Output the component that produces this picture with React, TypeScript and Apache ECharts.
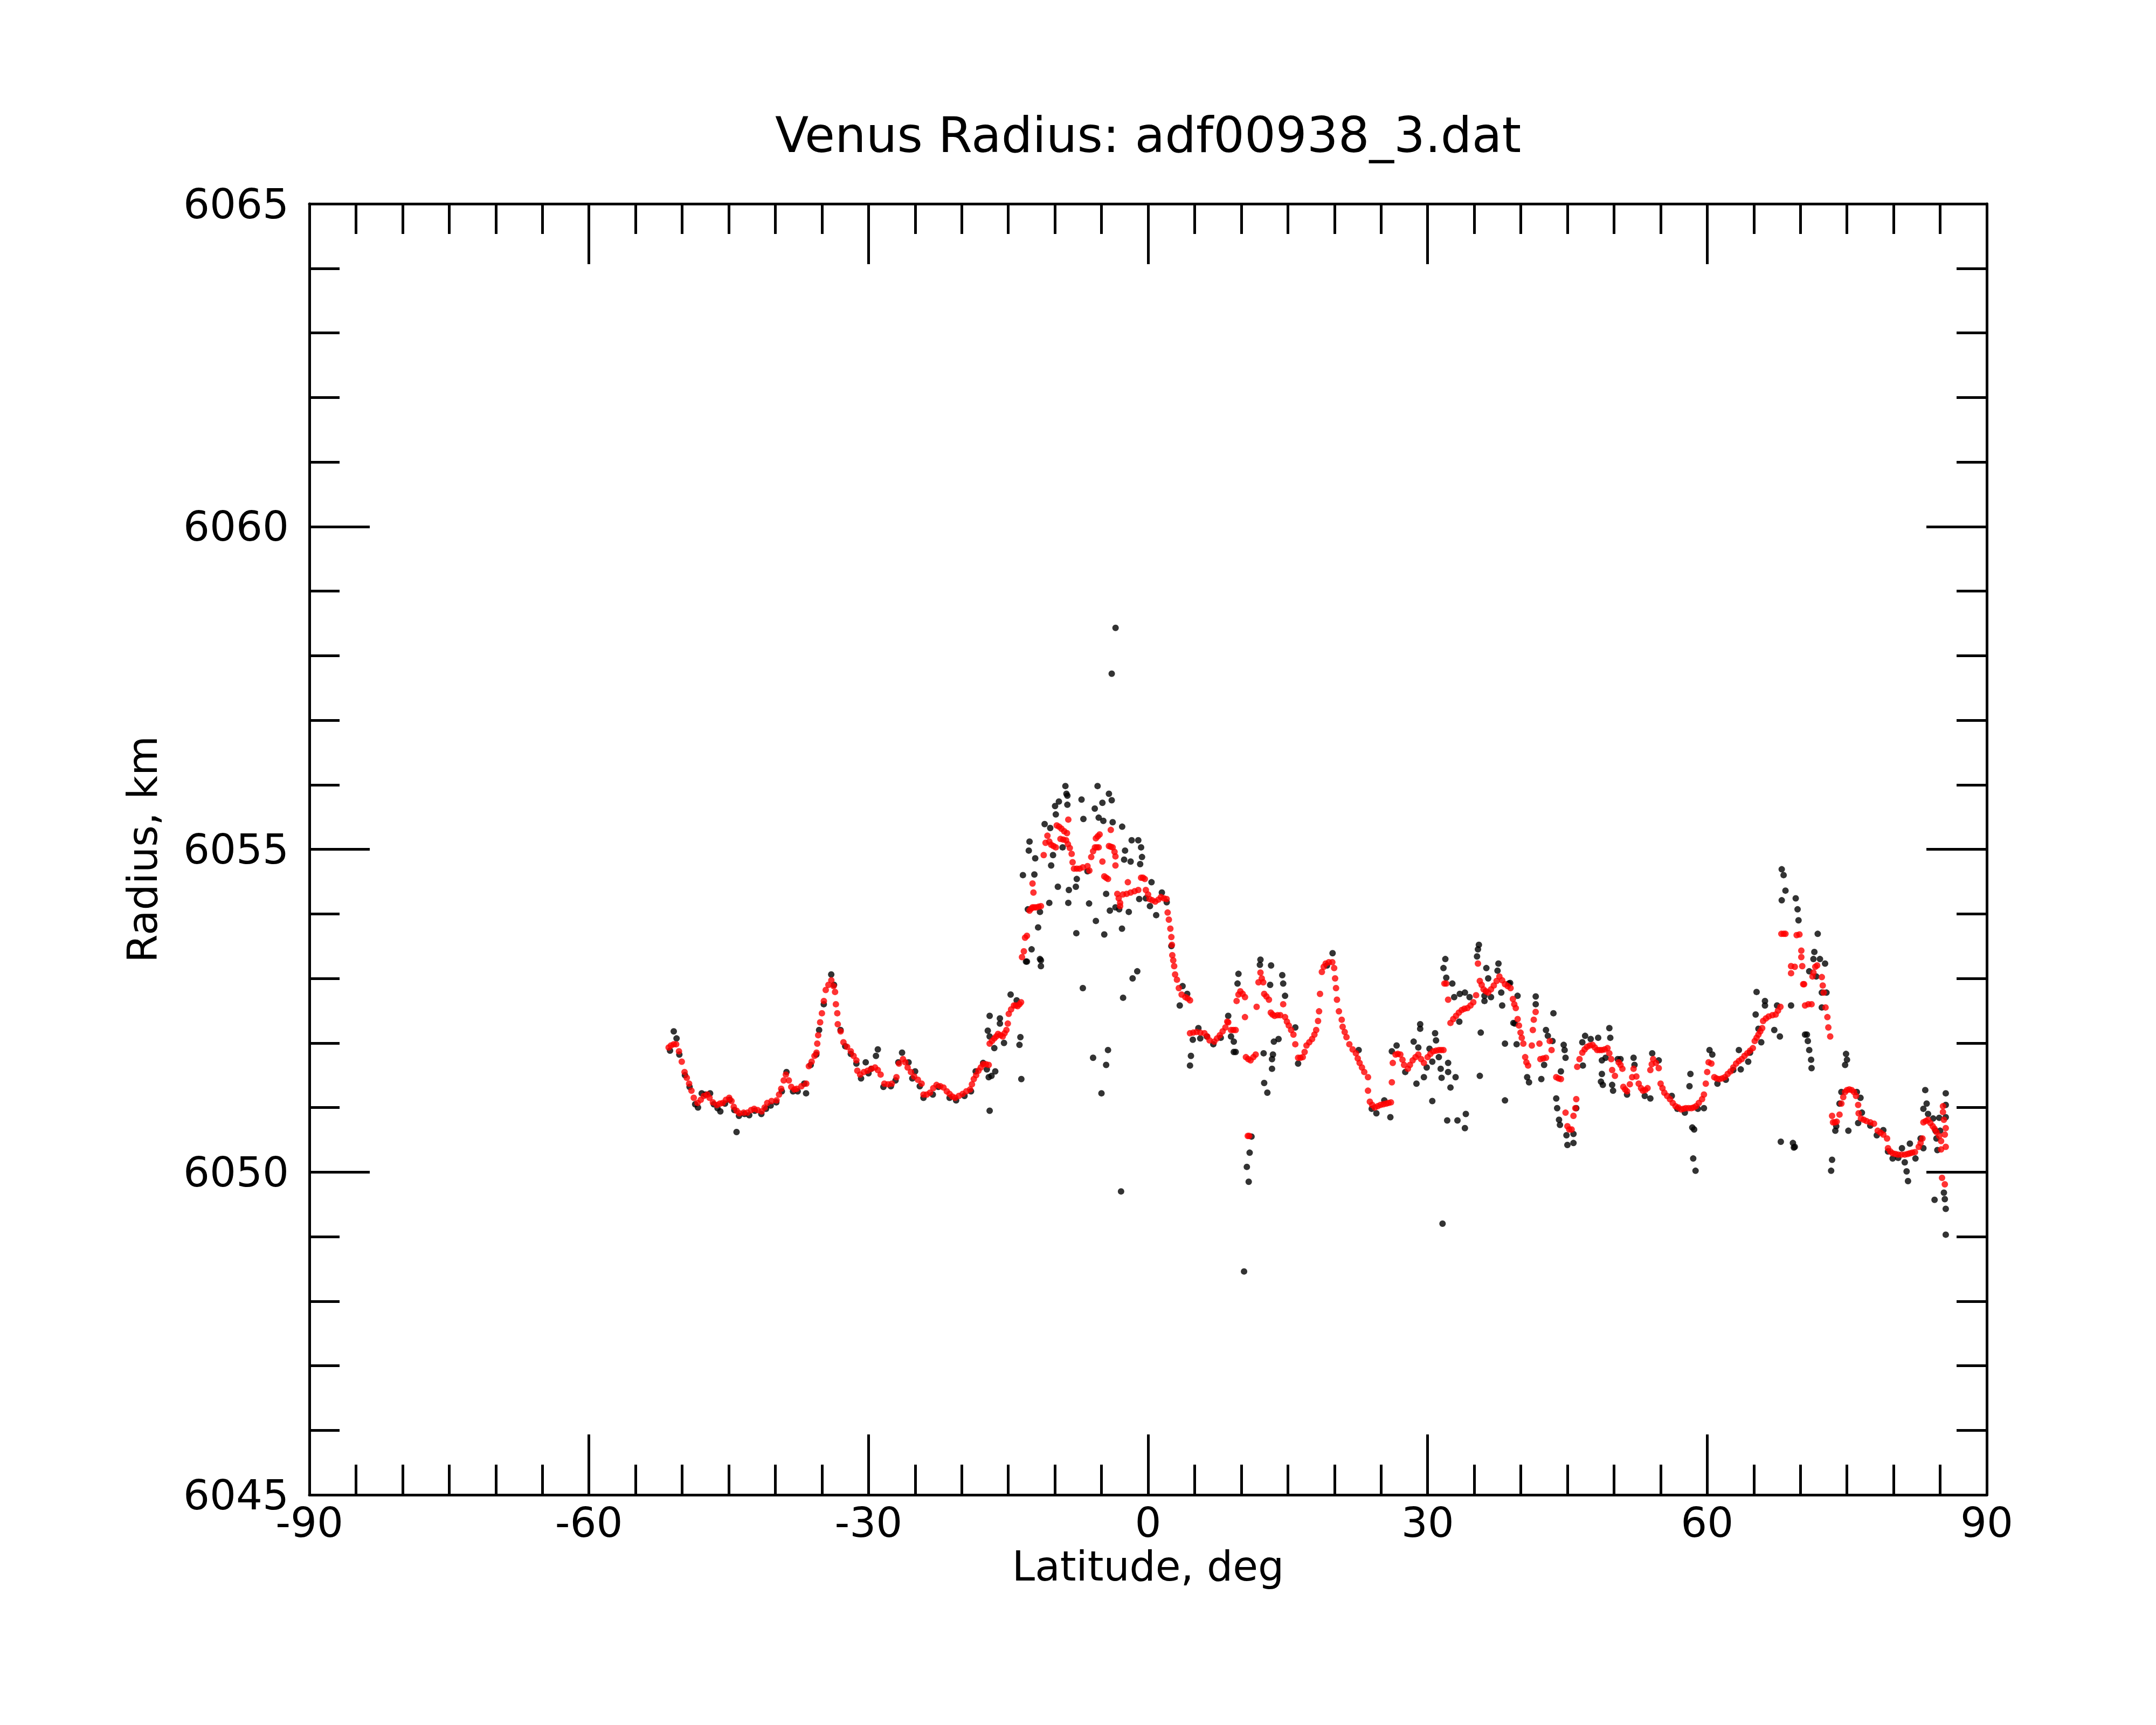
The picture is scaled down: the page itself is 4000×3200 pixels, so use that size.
import React, { useEffect, useRef } from "react";
import * as echarts from "echarts";

const TITLE = "Venus Radius: adf00938_3.dat";
const X_NAME = "Latitude, deg";
const Y_NAME = "Radius, km";
const X_MIN = -90;
const X_MAX = 90;
const X_STEP = 30;
const Y_MIN = 6045;
const Y_MAX = 6065;
const Y_STEP = 5;

// raw measurements (black)
const rawPoints: number[][] = [
  [-51.3,6051.88],[-50.9,6052.18],[-50.6,6052.07],[-50.3,6051.82],[-49.7,6051.5],[-49.2,6051.32],[-48.6,6051.05],[-48.3,6051.0],[-47.9,6051.22],[-47.5,6051.2],[-47.0,6051.22],[-46.6,6051.05],[-46.2,6050.99],[-45.9,6050.94],[-45.4,6051.06],[-44.9,6051.12],[-44.4,6050.96],[-44.16,6050.62],[-43.9,6050.87],[-43.3,6050.9],[-42.8,6050.88],[-42.2,6050.95],[-41.5,6050.9],[-41.0,6050.98],[-40.5,6051.03],[-39.9,6051.08],[-39.3,6051.25],[-38.8,6051.55],[-38.1,6051.25],[-37.6,6051.25],[-36.9,6051.37],[-36.7,6051.22],[-36.2,6051.66],[-35.6,6051.82],[-35.3,6052.2],[-34.8,6052.6],[-34.0,6053.06],[-33.7,6052.9],[-33.0,6052.2],[-32.5,6051.95],[-31.9,6051.83],[-31.3,6051.68],[-30.8,6051.45],[-30.3,6051.7],[-30.0,6051.53],[-29.7,6051.6],[-29.2,6051.8],[-29.0,6051.9],[-28.4,6051.32],[-27.6,6051.33],[-27.1,6051.42],[-26.8,6051.7],[-26.4,6051.85],[-25.7,6051.7],[-25.0,6051.56],[-25.3,6051.45],[-24.5,6051.33],[-24.1,6051.15],[-23.1,6051.2],[-22.5,6051.32],[-21.3,6051.15],[-20.6,6051.11],[-19.7,6051.18],[-19.0,6051.25],[-18.5,6051.56],[-17.7,6051.69],[-17.3,6051.59],[-17.1,6051.47],[-16.8,6051.49],[-16.4,6051.56],[-17.0,6050.95],[-17.2,6052.19],[-17.0,6052.1],[-17.0,6052.42],[-16.5,6051.92],[-15.9,6052.38],[-15.9,6052.3],[-15.46,6052.0],[-14.75,6052.75],[-14.1,6052.66],[-13.7,6052.09],[-13.8,6051.97],[-13.6,6051.44],
  [-13.43,6054.6],[-13.1,6053.26],[-13.0,6053.26],[-12.9,6054.07],[-12.8,6054.98],[-12.72,6055.12],[-12.5,6053.45],[-12.2,6054.61],[-12.11,6054.86],[-11.8,6053.79],[-11.6,6054.03],[-11.6,6053.3],[-11.5,6053.19],[-11.5,6053.28],[-11.1,6055.39],[-10.6,6054.17],[-10.5,6055.33],[-10.4,6054.75],[-10.2,6054.91],[-9.98,6055.67],[-9.9,6055.54],[-9.68,6054.42],[-9.57,6055.74],[-9.17,6055.03],[-8.87,6055.98],[-8.76,6055.86],[-8.66,6055.83],[-8.66,6055.69],[-8.56,6054.17],[-8.5,6054.37],[-7.75,6054.42],[-7.7,6053.7],[-7.65,6054.54],[-7.14,6055.77],[-7.0,6052.85],[-6.94,6055.47],[-6.5,6054.66],[-6.33,6054.16],[-5.9,6051.77],[-5.72,6055.63],[-5.6,6053.89],[-5.42,6055.98],[-5.3,6055.49],[-5.0,6051.22],[-4.9,6055.72],[-4.8,6055.44],[-4.7,6053.68],[-4.5,6054.31],[-4.5,6051.66],[-4.3,6051.89],[-4.2,6055.86],[-4.1,6054.05],[-3.9,6055.76],[-3.9,6057.72],[-3.8,6055.42],[-3.49,6058.43],[-3.5,6054.1],[-3.1,6054.07],[-2.9,6049.7],[-2.8,6053.77],[-2.78,6055.35],[-2.68,6052.7],[-2.57,6054.84],[-2.47,6054.98],[-2.07,6054.03],[-1.87,6054.81],[-1.76,6055.14],[-1.66,6053.0],[-1.16,6053.11],[-1.05,6055.14],[-0.95,6054.23],[-0.85,6054.77],[-0.75,6055.03],[-0.65,6054.88],[-0.24,6054.24],[0.2,6054.12],[0.37,6054.49],[0.87,6053.98],[1.48,6054.33],[2.0,6054.18],[2.5,6053.5],
  [3.4,6052.58],[3.7,6052.88],[4.2,6052.76],[4.5,6051.65],[4.6,6051.8],[4.8,6052.05],[5.4,6052.23],[5.6,6052.07],[6.3,6052.1],[7.0,6051.98],[7.8,6052.08],[8.6,6052.42],[8.9,6052.1],[9.2,6052.02],[9.2,6051.86],[9.4,6051.86],[9.6,6052.92],[9.7,6053.07],[10.3,6048.46],[10.6,6050.08],[10.8,6049.85],[10.9,6050.3],[11.1,6050.55],[12.0,6053.21],[12.06,6053.29],[12.4,6051.84],[12.46,6051.38],[12.8,6051.23],[13.1,6052.9],[13.2,6053.2],[13.3,6051.75],[13.3,6051.6],[13.4,6051.82],[13.5,6052.02],[14.0,6052.06],[14.4,6053.05],[14.5,6052.92],[14.7,6052.73],[15.8,6052.24],[16.1,6051.68],[19.2,6053.2],[19.8,6053.39],[22.6,6051.89],[24.0,6050.98],[24.5,6050.91],[25.35,6051.11],[26.0,6050.85],[26.16,6051.87],[26.67,6051.96],[27.6,6051.55],[28.5,6052.02],[28.8,6051.37],[29.0,6051.93],[29.2,6052.29],[29.2,6052.22],[29.6,6051.47],[29.9,6051.62],[30.2,6051.91],[30.5,6051.71],[30.5,6051.1],[30.8,6052.15],[30.9,6052.04],[31.2,6051.78],[31.4,6051.6],[31.5,6051.46],[31.6,6049.2],[31.7,6053.16],[31.9,6053.3],[32.0,6053.01],[32.1,6050.8],[32.2,6051.69],[32.2,6051.55],[32.45,6051.31],[32.65,6052.92],[32.85,6052.71],[33.0,6051.47],[33.2,6050.8],[33.4,6052.33],[33.45,6052.76],[34.0,6052.78],[34.0,6050.68],[34.1,6050.9],[34.5,6052.71],[35.3,6053.34],[35.4,6053.45],[35.5,6053.52],[35.6,6051.49],[35.7,6052.16],[36.1,6052.73],[36.1,6052.65],[36.3,6053.16],[36.5,6053.0],[36.8,6052.71],[37.5,6053.12],[37.6,6053.23],[37.9,6052.78],[38.0,6052.58],[38.3,6051.99],[38.3,6051.11],[38.7,6052.92],[38.85,6052.93],[39.2,6052.31],[39.36,6052.3],[39.55,6051.98],[39.65,6052.73],
  [40.68,6051.47],[40.88,6051.39],[41.6,6052.72],[41.6,6052.6],[42.2,6051.44],[42.5,6051.66],[42.7,6052.2],[42.9,6052.11],[43.4,6052.03],[43.5,6052.46],[43.8,6051.14],[43.9,6050.99],[44.1,6050.81],[44.2,6050.73],[44.3,6051.56],[44.6,6051.97],[44.7,6051.89],[44.8,6051.77],[44.9,6050.57],[45.0,6050.42],[45.65,6050.45],[45.65,6050.59],[45.95,6050.99],[46.6,6052.01],[46.66,6051.65],[46.9,6052.11],[47.5,6052.06],[48.3,6052.08],[48.6,6051.4],[48.7,6051.73],[48.7,6051.52],[48.8,6051.35],[49.1,6051.77],[49.5,6052.23],[49.6,6052.08],[49.8,6051.35],[49.9,6051.26],[50.4,6051.75],[50.7,6051.75],[51.4,6051.2],[52.1,6051.77],[52.2,6051.66],[53.3,6051.18],[53.9,6051.14],[54.1,6051.84],[54.8,6051.73],[56.2,6051.18],[56.8,6050.98],[57.6,6050.92],[58.1,6051.33],[58.2,6051.52],[58.4,6050.69],[58.5,6050.21],[58.6,6050.66],[58.75,6050.02],[59.0,6050.98],[59.65,6050.99],[60.25,6051.89],[60.55,6051.82],[61.1,6051.37],[62.0,6051.43],[62.8,6051.58],[63.4,6051.89],[63.6,6051.59],[64.4,6051.71],[64.6,6051.85],[65.2,6052.44],[65.3,6052.79],[65.5,6052.22],[65.8,6052.01],[66.2,6052.65],[66.2,6052.58],[67.2,6052.2],[67.5,6052.58],[67.8,6052.1],[67.9,6050.47],[68.0,6054.69],[68.2,6054.6],[68.4,6054.36],[68.0,6054.21],[69.0,6052.58],[69.2,6050.45],[69.3,6050.38],[69.4,6050.39],[69.5,6054.24],[69.7,6054.07],[69.8,6053.9],[70.5,6052.13],[70.7,6052.13],[70.8,6052.03],[70.95,6051.89],[70.95,6053.11],[71.15,6051.74],[71.2,6051.61],[71.4,6053.3],[71.5,6053.41],[71.7,6053.03],[71.86,6053.69],[72.1,6053.3],[72.3,6052.78],[72.3,6052.55],[72.65,6053.23],[72.8,6052.78],[73.3,6050.02],[73.4,6050.19],[73.75,6050.64],[73.85,6050.71],[74.2,6051.06],[74.4,6051.24],[74.8,6051.66],[74.9,6051.83],[75.0,6051.74],[75.15,6050.64],[76.06,6051.24],[76.2,6050.76],[76.45,6051.15],[76.6,6050.92],[77.5,6050.72],[78.2,6050.57],[78.9,6050.65],[79.4,6050.32],[79.9,6050.21],[80.5,6050.22],[80.9,6050.37],[81.2,6050.15],[81.4,6050.01],[81.55,6049.86],[81.75,6050.44],[82.35,6050.21],[82.9,6050.52],[83.2,6050.37],[83.2,6050.98],[83.4,6051.27],[83.55,6051.06],[83.7,6050.9],[84.25,6050.83],[84.4,6049.57],[84.5,6050.64],[84.6,6050.52],[84.7,6050.34],[84.9,6050.84],[85.0,6050.64],[85.4,6049.68],[85.5,6049.58],[85.6,6049.43],[85.6,6049.03],[85.6,6051.22],[85.6,6051.04],[85.6,6050.85]
];

// filtered profile (red)
const filteredPoints: number[][] = [
  [-51.45,6051.93],[-51.2,6051.96],[-50.9,6051.98],[-50.64,6051.98],[-50.34,6051.87],[-50.04,6051.71],[-49.74,6051.55],[-49.5,6051.46],[-49.25,6051.37],[-49.0,6051.26],[-48.75,6051.15],[-48.35,6051.07],[-48.0,6051.12],[-47.66,6051.18],[-47.3,6051.2],[-47.06,6051.15],[-46.7,6051.08],[-46.27,6051.04],[-45.95,6051.06],[-45.65,6051.07],[-45.3,6051.12],[-44.95,6051.15],[-44.7,6051.1],[-44.46,6051.01],[-44.15,6050.95],[-43.86,6050.91],[-43.4,6050.92],[-43.0,6050.92],[-42.6,6050.96],[-42.27,6050.98],[-41.9,6050.96],[-41.47,6050.94],[-41.15,6051.0],[-40.87,6051.07],[-40.4,6051.1],[-39.87,6051.11],[-39.6,6051.2],[-39.37,6051.29],[-39.1,6051.42],[-38.87,6051.51],[-38.55,6051.42],[-38.29,6051.32],[-37.95,6051.28],[-37.7,6051.29],[-37.2,6051.33],[-36.68,6051.37],[-36.4,6051.64],[-36.1,6051.71],[-35.8,6051.8],[-35.58,6051.85],[-35.5,6051.99],[-35.4,6052.12],[-35.19,6052.32],[-35.0,6052.46],[-34.79,6052.65],[-34.59,6052.82],[-34.3,6052.9],[-33.99,6052.97],[-33.75,6052.88],[-33.59,6052.79],[-33.5,6052.6],[-33.35,6052.46],[-33.3,6052.29],[-32.99,6052.18],[-32.69,6052.01],[-32.3,6051.94],[-31.9,6051.87],[-31.6,6051.8],[-31.3,6051.73],[-31.2,6051.57],[-30.9,6051.51],[-30.5,6051.55],[-30.1,6051.57],[-29.7,6051.6],[-29.3,6051.62],[-29.0,6051.58],[-28.7,6051.51],[-28.3,6051.37],[-27.9,6051.36],[-27.5,6051.37],[-27.0,6051.47],[-26.73,6051.68],[-26.3,6051.75],[-26.05,6051.7],[-25.8,6051.62],[-25.45,6051.55],[-25.1,6051.48],[-24.7,6051.43],[-24.3,6051.37],[-24.1,6051.2],[-23.75,6051.2],[-23.4,6051.23],[-23.05,6051.3],[-22.7,6051.35],[-22.3,6051.33],[-21.95,6051.31],[-21.6,6051.25],[-21.3,6051.21],[-21.0,6051.17],[-20.7,6051.15],[-20.3,6051.18],[-19.9,6051.21],[-19.5,6051.25],[-19.1,6051.28],[-18.9,6051.36],[-18.7,6051.44],[-18.45,6051.5],[-18.2,6051.57],[-17.95,6051.62],[-17.7,6051.67],[-17.4,6051.67],[-17.1,6051.66],[-17.0,6051.99],[-16.75,6052.03],[-16.5,6052.07],[-16.3,6052.1],[-16.1,6052.14],[-15.85,6052.12],[-15.6,6052.1],[-15.4,6052.15],[-15.2,6052.2],[-15.05,6052.3],[-14.95,6052.45],[-14.7,6052.52],[-14.4,6052.58],[-14.2,6052.58],[-14.0,6052.57],[-13.8,6052.6],[-13.63,6052.63],
  [-13.53,6053.33],[-13.33,6053.42],[-13.2,6053.63],[-13.0,6053.66],[-12.72,6054.05],[-12.55,6054.08],[-12.4,6054.1],[-12.2,6054.1],[-12.0,6054.1],[-11.75,6054.11],[-11.5,6054.12],[-12.4,6054.47],[-12.3,6054.33],[-11.2,6054.91],[-11.0,6055.1],[-10.8,6055.21],[-10.6,6055.12],[-10.4,6055.07],[-10.15,6055.05],[-9.9,6055.03],[-9.8,6055.37],[-9.55,6055.35],[-9.3,6055.32],[-9.0,6055.28],[-8.7,6055.25],[-8.56,6055.46],[-9.4,6055.16],[-9.1,6055.15],[-8.8,6055.14],[-8.6,6055.08],[-8.4,6055.02],[-8.2,6054.93],[-8.1,6054.8],[-7.95,6054.7],[-7.65,6054.7],[-7.35,6054.7],[-7.0,6054.72],[-6.5,6054.74],[-6.3,6054.67],[-6.1,6054.88],[-5.9,6054.97],[-5.7,6055.03],[-5.5,6055.03],[-5.3,6055.03],[-5.6,6055.17],[-5.4,6055.2],[-5.2,6055.23],[-4.9,6054.81],[-4.7,6054.58],[-4.5,6054.56],[-4.3,6054.54],[-4.2,6055.05],[-4.0,6055.04],[-3.8,6055.03],[-3.6,6054.96],[-3.5,6054.89],[-4.0,6055.3],[-3.5,6054.75],[-3.3,6054.31],[-3.15,6054.24],[-3.0,6054.17],[-3.0,6054.12],[-2.7,6054.3],[-2.3,6054.31],[-2.17,6054.49],[-1.87,6054.33],[-1.45,6054.35],[-1.05,6054.37],[-0.75,6054.56],[-0.55,6054.56],[-0.35,6054.54],[-0.24,6054.37],[0.0,6054.3],[0.16,6054.23],[0.45,6054.21],[0.77,6054.19],[1.1,6054.22],[1.38,6054.26],[1.7,6054.24],[1.99,6054.23],[2.1,6054.02],[2.23,6053.91],[2.39,6053.77],[2.5,6053.64],[2.56,6053.52],[2.6,6053.36],[2.7,6053.28],[2.8,6053.19],
  [2.9,6053.06],[3.1,6052.98],[3.3,6052.85],[3.6,6052.75],[4.0,6052.71],[4.25,6052.69],[4.5,6052.66],[4.5,6052.15],[4.85,6052.16],[5.2,6052.17],[5.6,6052.16],[6.05,6052.15],[6.35,6052.1],[6.6,6052.04],[7.1,6052.02],[7.4,6052.07],[7.7,6052.12],[8.0,6052.18],[8.3,6052.24],[8.5,6052.33],[8.6,6052.32],[8.9,6052.2],[9.15,6052.2],[9.4,6052.2],
  [9.5,6052.65],[9.7,6052.75],[9.9,6052.8],[10.15,6052.76],[10.4,6052.71],[10.4,6052.4],[10.5,6051.78],[10.75,6051.75],[11.0,6051.73],[11.3,6051.78],[11.55,6051.82],[10.7,6050.56],[10.85,6050.56],[11.65,6052.56],[11.85,6052.94],[12.06,6053.09],[12.2,6053.0],[12.36,6052.94],[12.46,6052.76],[12.7,6052.72],[12.97,6052.67],[13.17,6052.47],[13.35,6052.44],[13.58,6052.42],[13.9,6052.43],[14.19,6052.43],[14.5,6052.6],[14.7,6052.4],[14.9,6052.33],[15.1,6052.27],[15.35,6052.2],[15.6,6052.13],[15.8,6051.98],[16.1,6051.77],[16.35,6051.77],[16.6,6051.78],[16.8,6051.86],[17.0,6051.96],[17.3,6052.01],[17.6,6052.06],[17.85,6052.13],[18.04,6052.2],[18.24,6052.34],[18.35,6052.49],[18.45,6052.76],[18.65,6053.1],[18.85,6053.18],[19.06,6053.23],[19.4,6053.25],[19.77,6053.25],[19.97,6053.16],[20.07,6053.0],[20.17,6052.85],[20.27,6052.67],[20.48,6052.49],[20.78,6052.36],[20.88,6052.25],[21.1,6052.17],[21.29,6052.09],[21.6,6051.98],[21.95,6051.9],[22.3,6051.84],[22.5,6051.76],[22.7,6051.69],[22.95,6051.62],[23.2,6051.55],[23.6,6051.47],[23.6,6051.26],[23.8,6051.09],[24.05,6051.04],[24.33,6051.0],[24.64,6051.02],[24.94,6051.04],[25.25,6051.05],[25.55,6051.06],[25.8,6051.07],[26.06,6051.08],[26.16,6051.39],[26.26,6051.69],[26.56,6051.82],[26.8,6051.83],[27.07,6051.82],[27.3,6051.74],[27.47,6051.66],[27.88,6051.6],[28.1,6051.66],[28.39,6051.73],[28.7,6051.78],[29.0,6051.82],[29.3,6051.75],[29.6,6051.69],[30.0,6051.78],[30.3,6051.83],[30.6,6051.87],[30.9,6051.88],[31.2,6051.89],[31.45,6051.89],[31.7,6051.89],[31.8,6052.92],[32.0,6052.92],[32.2,6052.67],[32.45,6052.31],[32.75,6052.37],[33.05,6052.42],[33.35,6052.47],[33.66,6052.51],[33.95,6052.53],[34.27,6052.54],[34.6,6052.58],[34.9,6052.63],[35.2,6052.74],[35.4,6053.23],[35.6,6052.96],[35.8,6052.9],[36.0,6052.83],[36.25,6052.8],[36.5,6052.78],[36.8,6052.83],[37.1,6052.89],[37.4,6052.96],[37.7,6053.03],[38.0,6052.97],[38.3,6052.91],[38.6,6052.88],[38.9,6052.85],
  [39.15,6052.68],[39.3,6052.6],[39.46,6052.54],[39.66,6052.37],[39.8,6052.27],[39.97,6052.16],[40.1,6052.08],[40.27,6051.99],[40.47,6051.78],[40.6,6051.7],[40.78,6051.65],[41.18,6051.96],[41.29,6052.2],[41.39,6052.36],[41.59,6052.48],[42.0,6051.99],[42.1,6051.75],[42.4,6051.76],[42.7,6051.77],[43.1,6052.03],[43.3,6051.89],[43.8,6051.47],[44.05,6051.45],[44.3,6051.44],[44.8,6050.92],[45.0,6050.71],[45.2,6050.66],[45.45,6050.66],[45.65,6050.87],[45.85,6050.99],[45.95,6051.13],[46.05,6051.63],[46.3,6051.75],[46.6,6051.85],[46.85,6051.9],[47.1,6051.94],[47.4,6051.96],[47.7,6051.97],[47.95,6051.93],[48.2,6051.89],[48.45,6051.89],[48.7,6051.89],[49.0,6051.9],[49.3,6051.92],[49.5,6051.84],[49.7,6051.75],[49.8,6051.58],[50.1,6051.49],[50.5,6051.7],[50.7,6051.66],[50.9,6051.6],[51.0,6051.32],[51.2,6051.28],[51.4,6051.25],[51.7,6051.36],[51.95,6051.47],[52.1,6051.6],[52.4,6051.48],[52.65,6051.37],[52.9,6051.3],[53.1,6051.26],[53.35,6051.27],[53.6,6051.3],[53.9,6051.58],[54.05,6051.67],[54.2,6051.75],[54.5,6051.69],[54.8,6051.61],[55.0,6051.37],[55.2,6051.3],[55.4,6051.23],[55.7,6051.18],[56.0,6051.13],[56.3,6051.07],[56.6,6051.02],[56.9,6051.0],[57.2,6050.97],[57.45,6050.98],[57.7,6050.99],[58.0,6050.99],[58.3,6050.99],[58.55,6051.0],[58.8,6051.02],[59.1,6051.07],[59.45,6051.13],[59.65,6051.2],[59.85,6051.37],[60.0,6051.55],[60.15,6051.7],[60.45,6051.68],[60.76,6051.47],[61.0,6051.45],[61.3,6051.44],[61.6,6051.45],[61.9,6051.47],[62.2,6051.52],[62.5,6051.56],[62.8,6051.62],[63.1,6051.68],[63.4,6051.72],[63.7,6051.75],[64.0,6051.8],[64.3,6051.84],[64.6,6051.88],[64.9,6051.92],[65.1,6052.03],[65.3,6052.08],[65.5,6052.13],[65.7,6052.18],[65.9,6052.23],[66.0,6052.34],[66.3,6052.38],[66.6,6052.41],[67.0,6052.43],[67.35,6052.44],[67.6,6052.5],[67.86,6052.56],[67.96,6053.69],[68.2,6053.69],[68.4,6053.69],[69.6,6053.67],[69.9,6053.68],[70.1,6053.43],[70.1,6053.33],[69.0,6053.19],[69.4,6053.18],[70.2,6053.19],[69.0,6053.08],[70.3,6052.91],[70.4,6052.91],[70.5,6052.58],
  [70.86,6052.6],[71.2,6052.6],[71.3,6053.03],[71.4,6053.09],[71.6,6053.18],[71.8,6053.2],[72.3,6053.02],[72.4,6052.89],[72.5,6052.78],[72.7,6052.55],[72.9,6052.4],[73.0,6052.24],[73.2,6052.1],[73.4,6050.87],[73.5,6050.77],[73.7,6050.77],[73.9,6050.78],[74.2,6050.89],[74.4,6051.06],[74.6,6051.16],[74.8,6051.24],[75.0,6051.27],[75.25,6051.28],[75.5,6051.27],[75.75,6051.24],[75.97,6051.18],[76.2,6051.04],[76.25,6050.91],[76.5,6050.83],[76.8,6050.81],[77.1,6050.79],[77.5,6050.77],[77.9,6050.75],[78.3,6050.64],[78.6,6050.61],[78.9,6050.58],[79.3,6050.52],[79.4,6050.37],[79.65,6050.32],[79.9,6050.29],[80.2,6050.28],[80.5,6050.27],[80.85,6050.27],[81.2,6050.27],[81.5,6050.28],[81.75,6050.29],[82.0,6050.3],[82.3,6050.31],[82.7,6050.39],[82.9,6050.45],[83.1,6050.52],[83.2,6050.77],[83.45,6050.79],[83.7,6050.81],[83.95,6050.76],[84.2,6050.71],[84.4,6050.67],[84.6,6050.62],[84.9,6050.56],[85.1,6050.48],[85.1,6050.35],[85.6,6050.39],[85.3,6051.02],[85.3,6050.93],[85.4,6050.81],[85.6,6050.68],[85.5,6050.58],[85.2,6049.91],[85.5,6049.81]
];

const FONT = "DejaVu Sans";

function tickedAxis(kind: "x" | "y", position: string, showLabels: boolean) {
  const isX = kind === "x";
  return {
    type: "value",
    position,
    min: isX ? X_MIN : Y_MIN,
    max: isX ? X_MAX : Y_MAX,
    interval: isX ? X_STEP : Y_STEP,
    axisLine: { show: true, onZero: false, lineStyle: { color: "#000", width: 5 } },
    axisTick: { show: true, inside: true, length: 112, lineStyle: { color: "#000", width: 5 } },
    minorTick: { show: true, splitNumber: isX ? 6 : 5, length: 56, lineStyle: { color: "#000", width: 5 } },
    splitLine: { show: false },
    minorSplitLine: { show: false },
    axisLabel: {
      show: showLabels,
      color: "#000",
      fontFamily: FONT,
      fontSize: 77,
      margin: isX ? 13 : 38,
      formatter: (v: number) => String(v),
    },
  };
}

export default function App() {
  const ref = useRef<HTMLDivElement>(null);
  useEffect(() => {
    if (!ref.current) return;
    const chart = echarts.init(ref.current, null, { renderer: "svg" });
    const xBottom: any = tickedAxis("x", "bottom", true);
    xBottom.name = X_NAME;
    xBottom.nameLocation = "middle";
    xBottom.nameGap = 94;
    xBottom.nameTextStyle = { color: "#000", fontFamily: FONT, fontSize: 76 };
    const yLeft: any = tickedAxis("y", "left", true);
    yLeft.name = Y_NAME;
    yLeft.nameLocation = "middle";
    yLeft.nameGap = 272;
    yLeft.nameTextStyle = { color: "#000", fontFamily: FONT, fontSize: 76 };
    chart.setOption({
      animation: false,
      backgroundColor: "#fff",
      grid: { left: 574, right: 314, top: 378, bottom: 427, containLabel: false },
      graphic: [
        {
          type: "text",
          x: 2130,
          y: 250,
          style: {
            text: TITLE,
            fill: "#000",
            fontFamily: FONT,
            fontSize: 91,
            textAlign: "center",
            textVerticalAlign: "middle",
          },
        },
      ],
      xAxis: [xBottom, tickedAxis("x", "top", false)],
      yAxis: [yLeft, tickedAxis("y", "right", false)],
      series: [
        {
          type: "scatter",
          name: "raw",
          xAxisIndex: 0,
          yAxisIndex: 0,
          data: rawPoints,
          symbol: "circle",
          symbolSize: 12,
          itemStyle: { color: "#000" },
          silent: true,
          z: 2,
        },
        {
          type: "scatter",
          name: "filtered",
          xAxisIndex: 0,
          yAxisIndex: 0,
          data: filteredPoints,
          symbol: "circle",
          symbolSize: 12,
          itemStyle: { color: "#ff0000" },
          silent: true,
          z: 3,
        },
      ],
    });
    return () => chart.dispose();
  }, []);
  return (
    <div
      ref={ref}
      style={{ position: "fixed", left: 0, top: 0, width: 4000, height: 3200, background: "#fff" }}
    />
  );
}
